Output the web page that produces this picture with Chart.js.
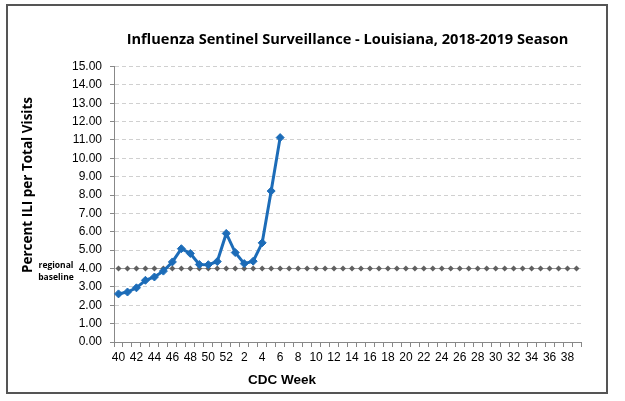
<!DOCTYPE html>
<html>
<head>
<meta charset="utf-8">
<script src="https://cdn.jsdelivr.net/npm/chart.js@4.4.1/dist/chart.umd.min.js"></script>
<style>
  html, body { margin: 0; padding: 0; background: #fff; }
  #wrap { width: 625px; height: 401px; }
</style>
</head>
<body>
<div id="wrap"><canvas id="fluChart"></canvas></div>
<script>
// CDC weeks of the 2018-2019 season (week 40 through week 39)
const weeks = [40, 41, 42, 43, 44, 45, 46, 47, 48, 49, 50, 51, 52,
  1, 2, 3, 4, 5, 6, 7, 8, 9, 10, 11, 12, 13, 14, 15, 16, 17, 18, 19, 20,
  21, 22, 23, 24, 25, 26, 27, 28, 29, 30, 31, 32, 33, 34, 35, 36, 37, 38, 39];

// Percent ILI per total visits (weeks 40 .. 6)
const iliPercent = [2.62, 2.72, 2.95, 3.36, 3.54, 3.86, 4.36, 5.08, 4.82, 4.22,
  4.21, 4.38, 5.91, 4.87, 4.27, 4.40, 5.40, 8.22, 11.13];

// Regional baseline (4.00 every week)
const regionalBaseline = [4, 4, 4, 4, 4, 4, 4, 4, 4, 4, 4, 4, 4,
  4, 4, 4, 4, 4, 4, 4, 4, 4, 4, 4, 4, 4, 4, 4, 4, 4, 4, 4, 4,
  4, 4, 4, 4, 4, 4, 4, 4, 4, 4, 4, 4, 4, 4, 4, 4, 4, 4, 4];

const yTicks = { min: 0, max: 15, step: 1 };

const narrowFont = '"Liberation Sans Narrow", "Arial Narrow", "Liberation Sans", sans-serif';
const boldFont = '"Open Sans", Lato, sans-serif';

// Extra text + frame drawn on top of the chart
const extrasPlugin = {
  id: "extras",
  afterDraw(chart) {
    const ctx = chart.ctx;
    const area = chart.chartArea;
    const y = chart.scales.y;
    ctx.save();

    // outer frame
    ctx.strokeStyle = "#555555";
    ctx.lineWidth = 2;
    ctx.strokeRect(7, 5, 600, 388);

    ctx.fillStyle = "#000";
    ctx.textAlign = "center";
    ctx.textBaseline = "middle";

    // y axis title
    ctx.save();
    ctx.translate(28, 185);
    ctx.rotate(-Math.PI / 2);
    ctx.font = "bold 13.5px " + boldFont;
    ctx.fillText("Percent ILI per Total Visits", 0, 0);
    ctx.restore();

    // baseline note
    const by = y.getPixelForValue(regionalBaseline[0]);
    ctx.font = "bold 8.5px " + boldFont;
    ctx.fillText("regional", 56, by - 3);
    ctx.fillText("baseline", 56, by + 9);

    // x axis title
    ctx.font = 'bold 13.5px "Liberation Sans", Arial, sans-serif';
    ctx.fillText("CDC Week", 282, area.bottom + 38);

    ctx.restore();
  }
};

const ctx = document.getElementById("fluChart").getContext("2d");

new Chart(ctx, {
  type: "line",
  data: {
    labels: weeks,
    datasets: [
      {
        label: "Percent ILI",
        data: iliPercent,
        borderColor: "#1c6cb8",
        backgroundColor: "#1c6cb8",
        borderWidth: 3,
        pointStyle: "rectRot",
        pointRadius: 4,
        pointBorderWidth: 1,
        tension: 0,
      },
      {
        label: "Regional baseline",
        data: regionalBaseline,
        borderColor: "#9a9a9a",
        backgroundColor: "#606060",
        pointBorderColor: "#606060",
        borderWidth: 1,
        pointStyle: "rectRot",
        pointRadius: 3,
        pointBorderWidth: 0,
      },
    ],
  },
  options: {
    responsive: true,
    maintainAspectRatio: false,
    animation: false,
    layout: { padding: { left: 10, right: 44, top: 0, bottom: 0 } },
    plugins: {
      legend: { display: false },
      tooltip: { enabled: false },
      title: {
        display: true,
        text: "Influenza Sentinel Surveillance - Louisiana, 2018-2019 Season",
        color: "#000",
        fullSize: false,
        font: { family: boldFont, size: 14.6, weight: "bold" },
        padding: { top: 31, bottom: 18 },
      },
    },
    scales: {
      x: {
        type: "category",
        offset: true,
        afterFit: (scale) => { scale.height = 59; },
        grid: {
          display: true,
          offset: true,
          drawOnChartArea: false,
          drawTicks: true,
          tickLength: 5,
          tickColor: "#888888",
        },
        border: { display: true, color: "#888888", width: 1 },
        ticks: {
          autoSkip: false,
          maxRotation: 0,
          padding: 3,
          color: "#000",
          font: { family: narrowFont, size: 12 },
          callback: function (value, index) {
            return index % 2 === 0 ? weeks[index] : "";
          },
        },
      },
      y: {
        min: yTicks.min,
        max: yTicks.max,
        afterFit: (scale) => { scale.width = 104; },
        grid: {
          color: "#d0d0d0",
          drawTicks: true,
          tickLength: 4,
          tickColor: "#888888",
          tickBorderDash: [],
        },
        border: { display: true, color: "#888888", width: 1, dash: [4, 3] },
        ticks: {
          stepSize: yTicks.step,
          padding: 8,
          color: "#000",
          font: { family: narrowFont, size: 12 },
          callback: (v) => Number(v).toFixed(2),
        },
      },
    },
  },
  plugins: [extrasPlugin],
});
</script>
</body>
</html>
